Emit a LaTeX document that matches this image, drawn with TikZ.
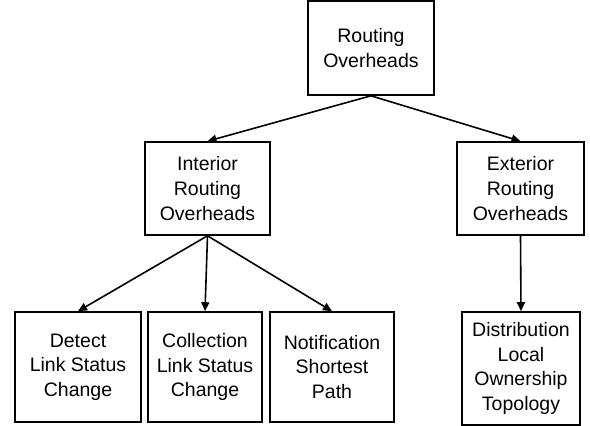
\documentclass[tikz,border=0pt]{standalone}
\usepackage{fontspec}
\setmainfont{Liberation Sans}
\usetikzlibrary{arrows.meta}
\begin{document}
\begin{tikzpicture}[x=1pt,y=-1pt,
  box/.style={draw=black,line width=1.6pt,rectangle,align=center,inner sep=0pt,
    font=\fontsize{19.5}{24.6}\selectfont},
  arr/.style={line width=1.6pt,-{Triangle[length=9pt,width=8pt]}}]
\useasboundingbox (0,0) rectangle (590,426);
\node[box,minimum width=126pt,minimum height=94pt] (top) at (371,48) {Routing\\Overheads};
\node[box,minimum width=125pt,minimum height=93pt] (int) at (207.5,188.5) {Interior\\Routing\\Overheads};
\node[box,minimum width=127pt,minimum height=93pt] (ext) at (520.5,188.5) {Exterior\\Routing\\Overheads};
\node[box,minimum width=126pt,minimum height=110pt] (det) at (78,367) {Detect\\Link Status\\Change};
\node[box,minimum width=114pt,minimum height=110pt] (col) at (205,367) {Collection\\Link Status\\Change};
\node[box,minimum width=124pt,minimum height=110pt] (not) at (332,367) {Notification\\Shortest\\Path};
\node[box,minimum width=118pt,minimum height=113pt] (dis) at (521,368.5) {Distribution\\Local\\Ownership\\Topology};
\draw[arr] (top.south) -- (int.north);
\draw[arr] (top.south) -- (ext.north);
\draw[arr] (int.south) -- (det.north);
\draw[arr] (int.south) -- (col.north);
\draw[arr] (int.south) -- (not.north);
\draw[arr] (ext.south) -- (dis.north);
\end{tikzpicture}
\end{document}
